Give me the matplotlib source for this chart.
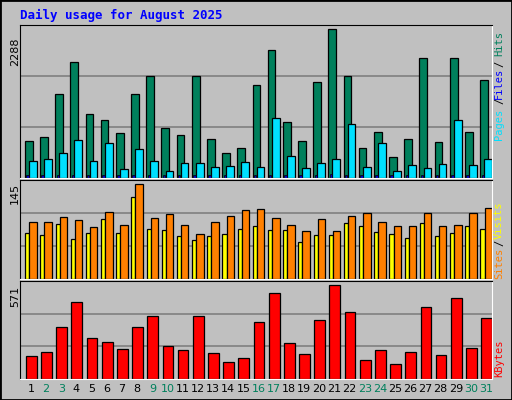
import matplotlib
matplotlib.use("Agg")
import matplotlib.pyplot as plt
from matplotlib.patches import Rectangle

days = list(range(1, 32))
weekend = [2, 3, 9, 10, 16, 17, 23, 24, 30, 31]

hits = [564, 626, 1294, 1791, 983, 890, 688, 1294, 1573, 766, 657, 1573, 595, 378, 455, 1434,
        1977, 859, 564, 1480, 2288, 1573, 455, 704, 316, 595, 1853, 549, 1853, 704, 1511]
files = [269, 285, 378, 580, 269, 533, 145, 440, 269, 114, 238, 238, 176, 192, 254, 176,
         921, 331, 160, 238, 285, 828, 176, 533, 114, 207, 160, 223, 890, 207, 300]
pages = [41] * 20 + [67] + [41] * 10
sites = [70, 67, 84, 61, 70, 92, 70, 125, 76, 75, 66, 60, 66, 69, 76, 81,
         75, 75, 56, 67, 67, 85, 81, 72, 69, 63, 85, 66, 70, 81, 76]
visits = [87, 87, 95, 90, 79, 102, 82, 145, 93, 99, 82, 69, 87, 96, 105, 107,
          93, 82, 73, 92, 73, 96, 101, 87, 81, 81, 101, 81, 82, 101, 108]
kbytes = [138, 162, 318, 469, 246, 222, 180, 318, 385, 198, 174, 385, 156, 102, 126, 349,
          523, 216, 150, 361, 571, 409, 114, 174, 90, 162, 439, 144, 493, 186, 373]

BG = '#C0C0C0'
W, H = 512, 400
fig = plt.figure(figsize=(W / 100, H / 100), dpi=100, facecolor=BG)
fig.patches.append(Rectangle((0, 0), 1, 1, transform=fig.transFigure, fill=False,
                             edgecolor='black', lw=2))


def make_ax(top, bottom):
    ax = fig.add_axes([20 / W, 1 - bottom / H, 472 / W, (bottom - top) / H], facecolor=BG)
    ax.set_xlim(-0.1, 31.0)
    ax.set_xticks([])
    ax.set_yticks([])
    for s in ['top', 'left']:
        ax.spines[s].set_color('black')
    for s in ['bottom', 'right']:
        ax.spines[s].set_color('white')
    return ax


def grid(ax, top):
    for f in (1 / 3, 2 / 3):
        ax.axhline(top * f, color='#808080', lw=1.2, zorder=0)


x0 = [d - 1 for d in days]

# hits / files / pages
ax1 = make_ax(25, 178)
top1 = 2288 * 455 / 442
ax1.set_ylim(0, top1)
grid(ax1, top1)
ax1.bar([x + 0.22 for x in x0], hits, width=0.51, align='edge', color='#00805C', edgecolor='black', lw=0.9)
ax1.bar([x + 0.49 for x in x0], files, width=0.51, align='edge', color='#00E0FF', edgecolor='black', lw=0.9)
ax1.bar([x + 0.31 for x in x0], pages, width=0.16, align='edge', color='#0000C0', edgecolor='black', lw=0.5)

# sites / visits
ax2 = make_ax(180, 279)
top2 = 145 * 297 / 285
ax2.set_ylim(0, top2)
grid(ax2, top2)
ax2.bar([x + 0.24 for x in x0], sites, width=0.27, align='edge', color='#FFFF00', edgecolor='black', lw=0.9)
ax2.bar([x + 0.51 for x in x0], visits, width=0.49, align='edge', color='#FF8000', edgecolor='black', lw=0.9)

# kbytes
ax3 = make_ax(281, 379)
top3 = 571 * 297 / 285
ax3.set_ylim(0, top3)
grid(ax3, top3)
ax3.bar([x + 0.29 for x in x0], kbytes, width=0.71, align='edge', color='#FF0000', edgecolor='black', lw=0.9)

for d in days:
    ax3.text(d - 1 + 0.62, -0.1, str(d), transform=ax3.get_xaxis_transform(), ha='center', va='center',
             fontsize=8, color='#00805C' if d in weekend else 'black')

fig.text(20 / W, 1 - 15 / H, 'Daily usage for August 2025', color='#0000FF', fontsize=9,
         family='DejaVu Sans Mono', fontweight='bold', va='center')

for y, s in [(52, '2288'), (193, '145'), (296, '571')]:
    fig.text(15 / W, 1 - y / H, s, rotation=90, ha='center', va='center', fontsize=8)

mono = dict(rotation=90, ha='center', va='center', fontsize=7.5, family='DejaVu Sans Mono')
right_x = 499 / W
for y, s, c in [(124, 'Pages', '#00E0FF'), (101, '/', 'black'), (83, 'Files', '#0000FF'),
                (64, '/', 'black'), (43, 'Hits', '#00805C'),
                (263, 'Sites', '#FF8000'), (243, '/', 'black'), (220, 'Visits', '#FFFF00'),
                (358, 'KBytes', '#FF0000')]:
    fig.text(right_x, 1 - y / H, s, color=c, **mono)

fig.savefig('out.png', dpi=100, facecolor=BG)
